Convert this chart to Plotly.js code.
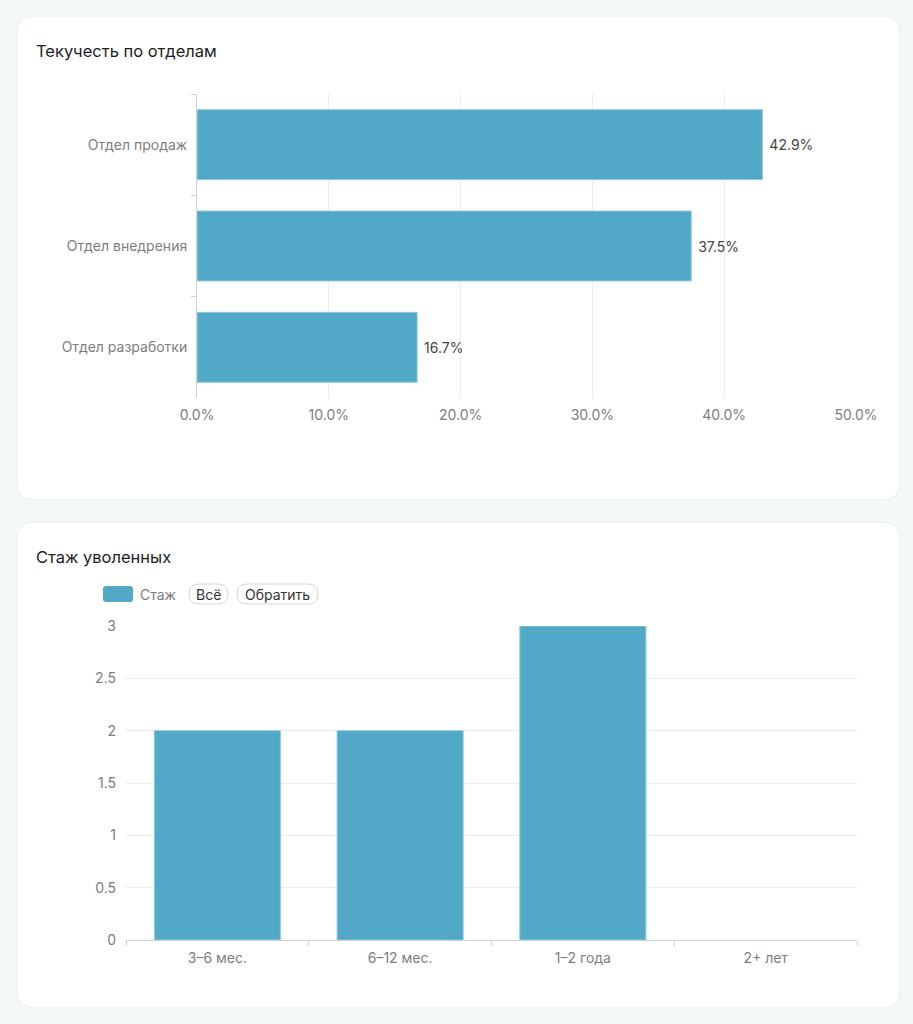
<!DOCTYPE html>
<html>
<head>
<meta charset="utf-8">
<script src="https://cdn.plot.ly/plotly-3.0.1.min.js"></script>
<style>
html,body{margin:0;padding:0;background:#f4f8f9;}
#chart{width:913px;height:1024px;}
</style>
</head>
<body>
<div id="chart"></div>
<script>
// ---- data ----
const deptCategories = ['Отдел продаж', 'Отдел внедрения', 'Отдел разработки'];
const deptTurnover = [0.429, 0.375, 0.167];
const tenureCategories = ['3–6 мес.', '6–12 мес.', '1–2 года', '2+ лет'];
const tenureCounts = [2, 2, 3, 0];
const tenureSeriesName = 'Стаж';
const title1 = 'Текучесть по отделам';
const title2 = 'Стаж уволенных';

// ---- helpers ----
const W = 913, H = 1024;
const px = x => x / W;
const py = y => 1 - y / H;
function roundRect(x0, y0, x1, y1, r) {
  const p = (x, y) => px(x) + ',' + py(y);
  return 'M' + p(x0 + r, y0) +
    ' L' + p(x1 - r, y0) + ' Q' + p(x1, y0) + ' ' + p(x1, y0 + r) +
    ' L' + p(x1, y1 - r) + ' Q' + p(x1, y1) + ' ' + p(x1 - r, y1) +
    ' L' + p(x0 + r, y1) + ' Q' + p(x0, y1) + ' ' + p(x0, y1 - r) +
    ' L' + p(x0, y0 + r) + ' Q' + p(x0, y0) + ' ' + p(x0 + r, y0) + ' Z';
}

const FONT = 'Inter, "Noto Sans", sans-serif';
const BAR = '#52a8c7';
const BAR_LINE = '#8fcbe0';
const AXIS_TXT = '#7d7d82';
const GRID = '#ececec';
const AXIS_LINE = '#d0d3d6';
const TICK_SIZE = 14;

const traces = [
  {
    type: 'bar',
    orientation: 'h',
    x: deptTurnover,
    y: deptCategories,
    xaxis: 'x', yaxis: 'y',
    marker: {color: BAR, line: {color: BAR_LINE, width: 1}},
    text: deptTurnover.map(v => '\u00a0' + (v * 100).toFixed(1) + '%'),
    textposition: 'outside',
    textfont: {family: FONT, size: 14, color: '#444444'},
    cliponaxis: false,
    hoverinfo: 'x+y',
    showlegend: false
  },
  {
    type: 'bar',
    x: tenureCategories,
    y: tenureCounts,
    name: tenureSeriesName,
    xaxis: 'x2', yaxis: 'y2',
    marker: {color: BAR, line: {color: BAR_LINE, width: tenureCounts.map(v => v > 0 ? 1 : 0)}},
    showlegend: false
  }
];

const shapes = [
  {type: 'path', xref: 'paper', yref: 'paper', path: roundRect(17, 16, 900, 500, 18),
   fillcolor: '#ffffff', line: {color: '#e9eef0', width: 1}, layer: 'below'},
  {type: 'path', xref: 'paper', yref: 'paper', path: roundRect(17, 522, 900, 1008, 18),
   fillcolor: '#ffffff', line: {color: '#e9eef0', width: 1}, layer: 'below'},
  // legend symbol
  {type: 'path', xref: 'paper', yref: 'paper', path: roundRect(103, 586, 133, 602, 3),
   fillcolor: BAR, line: {width: 0}, layer: 'above'},
  // selector pills
  {type: 'path', xref: 'paper', yref: 'paper', path: roundRect(189, 584, 228, 604, 10),
   fillcolor: '#ffffff', line: {color: '#d6d6d6', width: 1}, layer: 'above'},
  {type: 'path', xref: 'paper', yref: 'paper', path: roundRect(237, 584, 318, 604, 10),
   fillcolor: '#ffffff', line: {color: '#d6d6d6', width: 1}, layer: 'above'}
];

const annotations = [
  {text: title1, xref: 'paper', yref: 'paper', x: px(34), y: py(51), xanchor: 'left', yanchor: 'middle',
   showarrow: false, font: {family: FONT, size: 16.5, color: '#1d1d1f'}},
  {text: title2, xref: 'paper', yref: 'paper', x: px(34), y: py(557), xanchor: 'left', yanchor: 'middle',
   showarrow: false, font: {family: FONT, size: 16.5, color: '#1d1d1f'}},
  {text: tenureSeriesName, xref: 'paper', yref: 'paper', x: px(138), y: py(594), xanchor: 'left', yanchor: 'middle',
   showarrow: false, font: {family: FONT, size: 14, color: AXIS_TXT}},
  {text: 'Всё', xref: 'paper', yref: 'paper', x: px(208.5), y: py(594), xanchor: 'center', yanchor: 'middle',
   showarrow: false, font: {family: FONT, size: 14, color: '#333333'}},
  {text: 'Обратить', xref: 'paper', yref: 'paper', x: px(277.5), y: py(594), xanchor: 'center', yanchor: 'middle',
   showarrow: false, font: {family: FONT, size: 14, color: '#333333'}}
];

const layout = {
  width: W, height: H,
  margin: {l: 0, r: 0, t: 0, b: 0, pad: 0},
  paper_bgcolor: '#f4f8f9',
  plot_bgcolor: 'rgba(0,0,0,0)',
  font: {family: FONT, size: TICK_SIZE, color: AXIS_TXT},
  showlegend: false,
  bargap: 0.31,
  xaxis: {
    domain: [px(197), px(856)],
    anchor: 'y',
    range: [0, 0.5],
    dtick: 0.1,
    tickformat: '.1%',
    showgrid: true, gridcolor: GRID, gridwidth: 1,
    zeroline: false, showline: false,
    ticks: '', ticklabelstandoff: 7,
    tickfont: {family: FONT, size: TICK_SIZE, color: AXIS_TXT},
    fixedrange: true
  },
  yaxis: {
    domain: [py(398), py(94)],
    anchor: 'x',
    type: 'category',
    categoryorder: 'array',
    categoryarray: deptCategories,
    autorange: 'reversed',
    showgrid: false, zeroline: false,
    showline: true, linecolor: AXIS_LINE, linewidth: 1,
    ticks: 'outside', tickson: 'boundaries', ticklen: 5, tickcolor: AXIS_LINE,
    ticklabelstandoff: 6,
    tickfont: {family: FONT, size: TICK_SIZE, color: AXIS_TXT},
    fixedrange: true
  },
  xaxis2: {
    domain: [px(126), px(857)],
    anchor: 'y2',
    type: 'category',
    showgrid: false, zeroline: false,
    showline: true, linecolor: AXIS_LINE, linewidth: 1,
    ticks: 'outside', tickson: 'boundaries', ticklen: 5, tickcolor: AXIS_LINE,
    ticklabelstandoff: 5,
    tickfont: {family: FONT, size: TICK_SIZE, color: AXIS_TXT},
    fixedrange: true
  },
  yaxis2: {
    domain: [py(940), py(626)],
    anchor: 'x2',
    range: [0, 3],
    dtick: 0.5,
    showgrid: true, gridcolor: GRID, gridwidth: 1,
    zeroline: false, showline: false,
    ticks: '', ticklabelstandoff: 9,
    tickfont: {family: FONT, size: TICK_SIZE, color: AXIS_TXT},
    fixedrange: true
  },
  shapes: shapes,
  annotations: annotations
};

Plotly.newPlot('chart', traces, layout, {displayModeBar: false});
</script>
</body>
</html>
